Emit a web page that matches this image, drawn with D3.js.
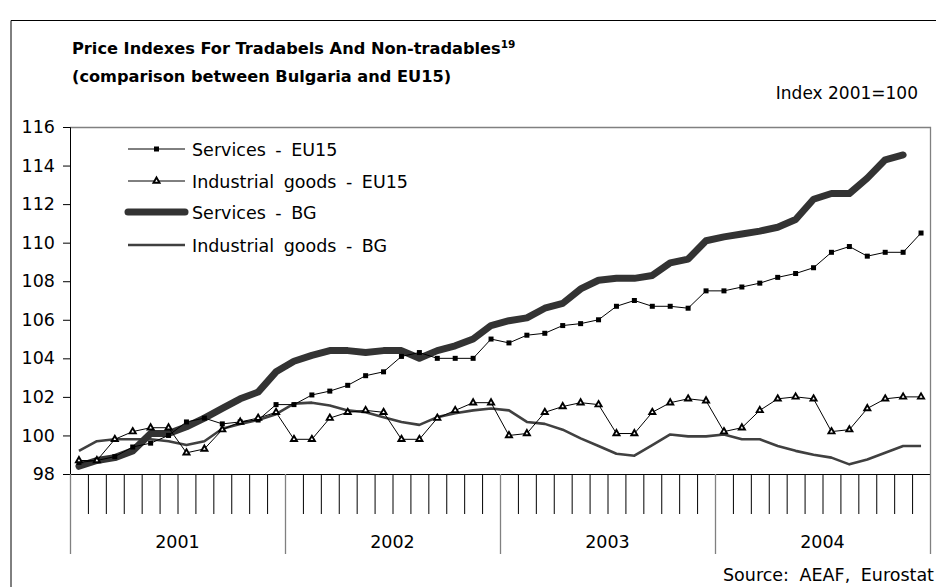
<!DOCTYPE html>
<html>
<head>
<meta charset="utf-8">
<script src="https://cdn.jsdelivr.net/npm/d3@7"></script>
<style>
  html, body { margin: 0; padding: 0; background: #fff; }
  svg { display: block; }
  text { font-family: "DejaVu Sans", Verdana, sans-serif; fill: #000; }
</style>
</head>
<body>
<svg id="chart" width="936" height="587"></svg>
<script>
// Monthly price indexes, Jan 2001 – Dec 2004 (Index 2001 = 100)
const years = ["2001", "2002", "2003", "2004"];
const yTicks = [98, 100, 102, 104, 106, 108, 110, 112, 114, 116];

const servicesEU15 = [
  98.6, 98.7, 98.9, 99.4, 99.6, 100.0, 100.7, 100.9, 100.6, 100.7, 100.8, 101.6,
  101.6, 102.1, 102.3, 102.6, 103.1, 103.3, 104.1, 104.3, 104.0, 104.0, 104.0, 105.0,
  104.8, 105.2, 105.3, 105.7, 105.8, 106.0, 106.7, 107.0, 106.7, 106.7, 106.6, 107.5,
  107.5, 107.7, 107.9, 108.2, 108.4, 108.7, 109.5, 109.8, 109.3, 109.5, 109.5, 110.5
];
const industrialEU15 = [
  98.7, 98.7, 99.8, 100.2, 100.4, 100.4, 99.1, 99.3, 100.3, 100.7, 100.9, 101.2,
  99.8, 99.8, 100.9, 101.2, 101.3, 101.2, 99.8, 99.8, 100.9, 101.3, 101.7, 101.7,
  100.0, 100.1, 101.2, 101.5, 101.7, 101.6, 100.1, 100.1, 101.2, 101.7, 101.9, 101.8,
  100.2, 100.4, 101.3, 101.9, 102.0, 101.9, 100.2, 100.3, 101.4, 101.9, 102.0, 102.0
];
const servicesBG = [
  98.4, 98.7, 98.85, 99.2, 100.1, 100.1, 100.45, 100.9, 101.4, 101.9, 102.25, 103.3,
  103.85, 104.15, 104.4, 104.4, 104.3, 104.4, 104.4, 104.0, 104.4, 104.65, 105.0, 105.7,
  105.95, 106.1, 106.6, 106.85, 107.6, 108.05, 108.15, 108.15, 108.3, 108.95, 109.15, 110.1,
  110.3, 110.45, 110.6, 110.8, 111.2, 112.25, 112.55, 112.55, 113.35, 114.3, 114.55
];
const industrialBG = [
  99.2, 99.7, 99.8, 99.8, 99.8, 99.7, 99.5, 99.7, 100.35, 100.6, 100.8, 101.1,
  101.65, 101.7, 101.55, 101.3, 101.2, 100.95, 100.7, 100.55, 100.95, 101.15, 101.3, 101.4,
  101.3, 100.7, 100.6, 100.3, 99.85, 99.45, 99.05, 98.95, 99.5, 100.05, 99.95, 99.95,
  100.05, 99.8, 99.8, 99.45, 99.2, 99.0, 98.85, 98.5, 98.75, 99.1, 99.45, 99.45
];

const seriesNames = ["Services - EU15", "Industrial goods - EU15", "Services - BG", "Industrial goods - BG"];

const svg = d3.select("#chart");
const W = 936, H = 587;
const plot = { left: 70, right: 930, top: 127, bottom: 474 };
const nMonths = years.length * 12;
const FONT = "17.5px";

// Outer frame
svg.append("path")
  .attr("d", `M11,${H + 2} V20.5 H${W + 2}`)
  .attr("fill", "none").attr("stroke", "#000").attr("stroke-width", 1);

// Titles
const title = svg.append("text").attr("x", 72).attr("y", 54)
  .style("font-weight", "bold").style("font-size", "16.2px");
title.append("tspan").text("Price Indexes For Tradabels And Non-tradables");
title.append("tspan").attr("dy", -6).style("font-size", "10.5px").text("19");
svg.append("text").attr("x", 72).attr("y", 82)
  .style("font-weight", "bold").style("font-size", "16.2px")
  .text("(comparison between Bulgaria and EU15)");
svg.append("text").attr("x", 918).attr("y", 99).attr("text-anchor", "end")
  .style("font-size", "17px").text("Index 2001=100");

// Scales
const x = d3.scaleBand().domain(d3.range(nMonths)).range([plot.left, plot.right]).paddingInner(0).paddingOuter(0);
const xEdge = d3.scaleLinear().domain([0, nMonths]).range([plot.left, plot.right]);
const y = d3.scaleLinear().domain([98, 116]).range([plot.bottom, plot.top]);
const cx = i => x(i) + x.bandwidth() / 2;

// Plot frame (top and right, grey)
svg.append("path")
  .attr("d", `M${plot.left},${plot.top + 0.5} H${plot.right + 0.5} V${plot.bottom}`)
  .attr("fill", "none").attr("stroke", "#808080").attr("stroke-width", 1.3);

// Y axis
const yAxis = svg.append("g").attr("transform", `translate(${plot.left},0)`)
  .call(d3.axisLeft(y).tickValues(yTicks).tickSize(7).tickPadding(8).tickFormat(d3.format("d")));
yAxis.select(".domain").attr("stroke", "#000");
yAxis.selectAll("text").style("font-size", FONT).style("font-family", "DejaVu Sans, Verdana, sans-serif");

// X axis: month ticks
const xMonths = svg.append("g").attr("transform", `translate(0,${plot.bottom})`)
  .call(d3.axisBottom(xEdge).tickValues(d3.range(1, nMonths)).tickSize(40).tickFormat(""));
xMonths.select(".domain").attr("stroke", "#000");
xMonths.selectAll(".tick line").attr("stroke", "#000");

// X axis: year boundaries
const xYears = svg.append("g").attr("transform", `translate(0,${plot.bottom})`)
  .call(d3.axisBottom(xEdge).tickValues(d3.range(0, nMonths + 1, 12)).tickSize(80).tickFormat(""));
xYears.select(".domain").remove();
xYears.selectAll(".tick line").attr("stroke", "#808080").attr("stroke-width", 1.3);

svg.append("g").selectAll("text").data(years).join("text")
  .attr("x", (d, i) => xEdge(i * 12 + 6)).attr("y", 548)
  .attr("text-anchor", "middle").style("font-size", FONT).text(d => d);

// Source
svg.append("text").attr("x", 934).attr("y", 581).attr("text-anchor", "end")
  .style("font-size", FONT).style("word-spacing", "5px").text("Source: AEAF, Eurostat");

// Lines
const line = d3.line().x((d, i) => cx(i)).y(d => y(d));
const g = svg.append("g");

g.append("path").datum(industrialBG).attr("d", line)
  .attr("fill", "none").attr("stroke", "#404040").attr("stroke-width", 2.6).attr("stroke-linejoin", "round");

g.append("path").datum(servicesBG).attr("d", line)
  .attr("fill", "none").attr("stroke", "#333").attr("stroke-width", 7)
  .attr("stroke-linejoin", "round").attr("stroke-linecap", "round");

g.append("path").datum(servicesEU15).attr("d", line)
  .attr("fill", "none").attr("stroke", "#000").attr("stroke-width", 1);
g.append("g").selectAll("rect").data(servicesEU15).join("rect")
  .attr("x", (d, i) => cx(i) - 2.5).attr("y", d => y(d) - 2.5)
  .attr("width", 5).attr("height", 5).attr("fill", "#000");

g.append("path").datum(industrialEU15).attr("d", line)
  .attr("fill", "none").attr("stroke", "#000").attr("stroke-width", 1);
const tri = d3.symbol().type(d3.symbolTriangle).size(16);
g.append("g").selectAll("path").data(industrialEU15).join("path")
  .attr("d", tri)
  .attr("transform", (d, i) => `translate(${cx(i)},${y(d)})`)
  .attr("fill", "#fff").attr("stroke", "#000").attr("stroke-width", 1.9)
  .attr("stroke-linejoin", "miter");

// Legend
const legend = svg.append("g");
const lx0 = 128, lx1 = 185;
const rows = [149, 181, 212, 245];
const styles = [
  { stroke: "#000", width: 1, marker: "square" },
  { stroke: "#000", width: 1, marker: "triangle" },
  { stroke: "#333", width: 7, marker: null },
  { stroke: "#404040", width: 2.6, marker: null }
];
seriesNames.forEach((name, k) => {
  const s = styles[k];
  legend.append("line").attr("x1", lx0).attr("x2", lx1).attr("y1", rows[k]).attr("y2", rows[k])
    .attr("stroke", s.stroke).attr("stroke-width", s.width)
    .attr("stroke-linecap", s.width > 5 ? "round" : "butt");
  const mx = (lx0 + lx1) / 2;
  if (s.marker === "square") {
    legend.append("rect").attr("x", mx - 2.5).attr("y", rows[k] - 2.5).attr("width", 5).attr("height", 5).attr("fill", "#000");
  } else if (s.marker === "triangle") {
    legend.append("path").attr("d", tri).attr("transform", `translate(${mx},${rows[k]})`)
      .attr("fill", "#fff").attr("stroke", "#000").attr("stroke-width", 1.9);
  }
  legend.append("text").attr("x", 192).attr("y", rows[k] + 7)
    .style("font-size", FONT).style("word-spacing", "4px").text(name);
});
</script>
</body>
</html>
